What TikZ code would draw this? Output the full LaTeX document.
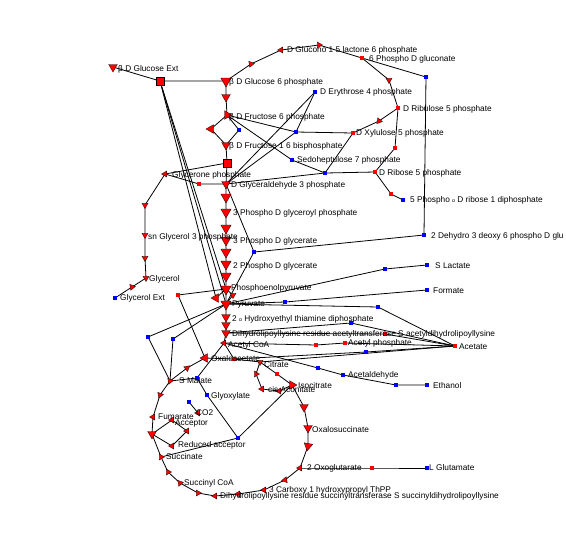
\documentclass[tikz,border=0pt]{standalone}
\usepackage{fontspec}
\setmainfont{Liberation Sans}
\usetikzlibrary{shapes.geometric,backgrounds}
\tikzset{
  tri/.style={regular polygon,regular polygon sides=3,minimum size=12pt,inner sep=0pt,fill=red,draw=black,line width=.3pt,shape border rotate=#1},
  tri/.default=180,
  mdt/.style={regular polygon,regular polygon sides=3,minimum size=10pt,inner sep=0pt,fill=red,draw=black,line width=.3pt,shape border rotate=#1},
  mdt/.default=180,
  smt/.style={regular polygon,regular polygon sides=3,minimum size=7pt,inner sep=0pt,fill=red,draw=black,line width=.3pt,shape border rotate=#1},
  smt/.default=180,
  big/.style={rectangle,minimum size=8pt,inner sep=0pt,fill=red,draw=black,line width=.3pt},
  bd/.style={rectangle,minimum size=3.6pt,inner sep=0pt,fill=blue,draw=none},
  rd/.style={rectangle,minimum size=3.6pt,inner sep=0pt,fill=red,draw=none},
  lb/.style={anchor=west,inner sep=0pt,font=\fontsize{8.3}{9}\selectfont,text=black},
  edge/.style={draw=black,line width=.8pt}
}
\begin{document}
\begin{tikzpicture}[x=1pt,y=-1pt]
\useasboundingbox (0,0) rectangle (566,542);
% reactions and metabolites
\node[mdt=60] (gext) at (113,67) {};
\node[big] (g1) at (160,81) {};
\node[tri] (g6p) at (226,81) {};
\node[mdt] (a1) at (226,97) {};
\node[mdt=30] (f6p) at (227,115) {};
\node[mdt=90] (a2) at (211,129) {};
\node[bd] (a3) at (239,130) {};
\node[mdt] (fbp) at (226,145) {};
\node[big] (a4) at (227,163) {};
\node[smt=90] (dhap) at (165,174) {};
\node[rd] (a5) at (199,184) {};
\node[mdt] (gap) at (226,184) {};
\node[tri] (m1) at (226,197) {};
\node[tri] (m2) at (226,212) {};
\node[tri] (m3) at (226,228) {};
\node[tri] (m4) at (226,240) {};
\node[tri] (m5) at (226,252) {};
\node[tri] (m6) at (226,264) {};
\node[tri] (m7) at (226,276) {};
\node[tri] (pep) at (226,289) {};
\node[tri] (pyr) at (226,304) {};
\node[mdt] (m8) at (226,317) {};
\node[mdt] (m9) at (226,325) {};
\node[mdt] (m10) at (226,333) {};
\node[smt=90] (aco) at (224,343) {};
\node[mdt=90] (b1) at (216,298) {};
\node[smt] (b2) at (233,295) {};
\node[rd] (b3) at (178,295) {};
% glycerol
\node[smt] (c1) at (145,205) {};
\node[smt] (c2) at (145,235) {};
\node[smt] (c3) at (145,258) {};
\node[smt=60] (gol) at (146,278) {};
\node[smt=40] (c4) at (132,287) {};
\node[bd] (gext2) at (115,298) {};
% pentose
\node[smt=40] (p1) at (251,64) {};
\node[smt=90] (gl) at (281,50) {};
\node[smt=30] (p2) at (319,45) {};
\node[rd] (pg) at (362,58) {};
\node[smt] (p3) at (389,80) {};
\node[rd] (rbl) at (398,108) {};
\node[smt=20] (p4) at (379,121) {};
\node[rd] (xyl) at (353,133) {};
\node[rd] (p5) at (395,148) {};
\node[rd] (rib) at (375,172) {};
\node[rd] (p6) at (391,194) {};
\node[bd] (prpp) at (403,200) {};
\node[bd] (ery) at (315,92) {};
\node[bd] (e1) at (296,132) {};
\node[bd] (sed) at (292,160) {};
\node[bd] (e2) at (325,173) {};
\node[bd] (kd1) at (426,77) {};
\node[bd] (kdpg) at (424,235) {};
\node[bd] (pgk) at (254,252) {};
% right branch
\node[bd] (lac1) at (385,269) {};
\node[bd] (lac) at (427,265) {};
\node[bd] (f1) at (285,302) {};
\node[bd] (fmt) at (427,290) {};
\node[bd] (ac1) at (378,307) {};
\node[bd] (ac2) at (351,323) {};
\node[rd] (ac3) at (385,334) {};
\node[rd] (acet) at (455,346) {};
\node[rd] (ap1) at (316,345) {};
\node[rd] (ap) at (345,343) {};
\node[bd] (ac4) at (366,352) {};
\node[bd] (ald1) at (318,368) {};
\node[bd] (ald) at (343,375) {};
\node[bd] (eth1) at (396,385) {};
\node[bd] (eth) at (427,385) {};
\node[bd] (ml1) at (148,337) {};
\node[bd] (ml2) at (173,339) {};
% cycle
\node[mdt=90] (oaa) at (205,358) {};
\node[smt=70] (t0) at (187,368) {};
\node[smt=40] (mal) at (170,381) {};
\node[smt=40] (t1) at (160,395) {};
\node[smt=90] (fum) at (153,417) {};
\node[mdt=60] (t2) at (152,434) {};
\node[smt=30] (suc) at (161,457) {};
\node[smt=30] (t3) at (168,472) {};
\node[smt=40] (sca) at (180,483) {};
\node[smt=30] (t4) at (198,493) {};
\node[smt=90] (t5) at (215,496) {};
\node[smt=90] (t6) at (238,494) {};
\node[smt=90] (t7) at (264,490) {};
\node[smt=100] (t8) at (285,480) {};
\node[smt=90] (ogl) at (300,468) {};
\node[mdt=170] (t9) at (308,446) {};
\node[mdt=180] (osu) at (308,428) {};
\node[mdt=180] (t10) at (304,407) {};
\node[mdt=150] (iso) at (292,385) {};
\node[rd] (t11) at (277,374) {};
\node[smt=90] (t12) at (279,391) {};
\node[smt=90] (cis) at (262,389) {};
\node[smt=150] (t13) at (256,374) {};
\node[smt=180] (cit) at (260,362) {};
\node[rd] (t14) at (234,359) {};
\node[smt=90] (d1) at (172,420) {};
\node[smt=90] (d2) at (187,431) {};
\node[smt=90] (d3) at (172,446) {};
\node[bd] (co1) at (189,402) {};
\node[smt=90] (co2) at (198,413) {};
\node[bd] (gx1) at (197,378) {};
\node[bd] (gxy) at (207,395) {};
\node[bd] (icl) at (238,438) {};
\node[rd] (glu1) at (372,468) {};
\node[bd] (glu) at (427,468) {};
% connectors
\begin{scope}[on background layer,every path/.style={edge}]
\draw (gext.center)--(g1.center)--(g6p.center)--(a1.center)--(f6p.center)--(a2.center)--(fbp.center)--(a4.center)--(gap.center);
\draw (f6p.center)--(a3.center)--(fbp.center);
\draw (a4.center)--(dhap.center)--(a5.center)--(gap.center);
\draw (gap.center)--(m1.center)--(m2.center)--(m3.center)--(m4.center)--(m5.center)--(m6.center)--(m7.center)--(pep.center)--(pyr.center)--(m8.center)--(m9.center)--(m10.center)--(aco.center);
\draw (g1.center)--(pep.center);
\draw (g1.center)--(pyr.center);
\draw (g1.center)--(b1.center);
\draw (pep.center)--(b1.center);
\draw (pep.center)--(b2.center)--(pyr.center);
\draw (dhap.center)--(c1.center)--(c2.center)--(c3.center)--(gol.center)--(c4.center)--(gext2.center);
\draw (g6p.center)--(p1.center)--(gl.center)--(p2.center)--(pg.center)--(p3.center)--(rbl.center)--(p4.center)--(xyl.center);
\draw (rbl.center)--(p5.center)--(rib.center)--(p6.center)--(prpp.center);
\draw (pg.center)--(kd1.center)--(kdpg.center)--(pgk.center)--(gap.center);
\draw (pgk.center)--(pyr.center);
\draw (ery.center)--(gap.center);
\draw (ery.center)--(e1.center)--(gap.center);
\draw (f6p.center)--(e1.center)--(xyl.center);
\draw (f6p.center)--(sed.center)--(e2.center)--(xyl.center);
\draw (gap.center)--(e2.center)--(rib.center);
\draw (pep.center)--(b3.center)--(oaa.center);
\draw (pyr.center)--(lac1.center)--(lac.center);
\draw (pyr.center)--(f1.center)--(fmt.center);
\draw (pyr.center)--(ac1.center)--(acet.center);
\draw (m10.center)--(ac2.center)--(acet.center);
\draw (m10.center)--(ac3.center)--(acet.center);
\draw (aco.center)--(ap1.center)--(ap.center)--(acet.center);
\draw (t14.center)--(ac4.center)--(acet.center);
\draw (cit.center)--(acet.center);
\draw (aco.center)--(ald1.center)--(ald.center)--(eth1.center)--(eth.center);
\draw (pyr.center)--(ml1.center)--(mal.center);
\draw (pyr.center)--(ml2.center)--(mal.center);
\draw (oaa.center)--(t0.center)--(mal.center)--(t1.center)--(fum.center)--(t2.center)--(suc.center)--(t3.center)--(sca.center)--(t4.center)--(t5.center)--(t6.center)--(t7.center)--(t8.center)--(ogl.center)--(t9.center)--(osu.center)--(t10.center)--(iso.center)--(t11.center)--(cit.center)--(t14.center)--(oaa.center);
\draw (cit.center)--(t13.center)--(cis.center)--(t12.center)--(iso.center);
\draw (aco.center)--(t14.center);
\draw (t2.center)--(d1.center)--(d2.center)--(d3.center)--(t2.center);
\draw (co1.center)--(co2.center);
\draw (aco.center)--(gx1.center)--(gxy.center)--(icl.center)--(iso.center);
\draw (gx1.center)--(mal.center);
\draw (icl.center)--(suc.center);
\draw (ogl.center)--(glu1.center)--(glu.center);
\end{scope}
% labels
\node[lb] (l1) at (118,69) {β D Glucose Ext};
\node[lb] (l2) at (229,82) {β D Glucose 6 phosphate};
\node[lb] (l3) at (287,50) {D Glucono 1 5 lactone 6 phosphate};
\node[lb] (l4) at (369,59) {6 Phospho D gluconate};
\node[lb] (l5) at (320,92) {D Erythrose 4 phosphate};
\node[lb] (l6) at (403,109) {D Ribulose 5 phosphate};
\node[lb] (l7) at (229,117) {β D Fructose 6 phosphate};
\node[lb] (l8) at (356,133) {D Xylulose 5 phosphate};
\node[lb] (l9) at (229,146) {β D Fructose 1 6 bisphosphate};
\node[lb] (l10) at (297,160) {Sedoheptulose 7 phosphate};
\node[lb] (l11) at (172,175) {Glycerone phosphate};
\node[lb] (l12) at (379,173) {D Ribose 5 phosphate};
\node[lb] (l13) at (231,185) {D Glyceraldehyde 3 phosphate};
\node[lb] (l14) at (410,200) {5 Phospho {\fontsize{5}{5}\selectfont α} D ribose 1 diphosphate};
\node[lb] (l15) at (233,213) {3 Phospho D glyceroyl phosphate};
\node[lb] (l16) at (148,237) {sn Glycerol 3 phosphate};
\node[lb] (l17) at (233,241) {3 Phospho D glycerate};
\node[lb] (l18) at (431,236) {2 Dehydro 3 deoxy 6 phospho D glu};
\node[lb] (l19) at (233,266) {2 Phospho D glycerate};
\node[lb] (l20) at (435,266) {S Lactate};
\node[lb] (l21) at (149,279) {Glycerol};
\node[lb] (l22) at (231,288) {Phosphoenolpyruvate};
\node[lb] (l23) at (433,291) {Formate};
\node[lb] (l24) at (120,298) {Glycerol Ext};
\node[lb] (l25) at (232,304) {Pyruvate};
\node[lb] (l26) at (232,319) {2 {\fontsize{5}{5}\selectfont α} Hydroxyethyl thiamine diphosphate};
\node[lb] (l27) at (232,334) {Dihydrolipoyllysine residue acetyltransferase S acetyldihydrolipoyllysine};
\node[lb] (l28) at (228,345) {Acetyl CoA};
\node[lb] (l29) at (348,343) {Acetyl phosphate};
\node[lb] (l30) at (459,347) {Acetate};
\node[lb] (l31) at (211,359) {Oxaloacetate};
\node[lb] (l32) at (264,365) {Citrate};
\node[lb] (l33) at (179,381) {S Malate};
\node[lb] (l34) at (298,386) {Isocitrate};
\node[lb] (l35) at (268,390) {cis Aconitate};
\node[lb] (l36) at (348,375) {Acetaldehyde};
\node[lb] (l37) at (433,386) {Ethanol};
\node[lb] (l38) at (211,396) {Glyoxylate};
\node[lb] (l39) at (196,413) {CO2};
\node[lb] (l40) at (158,417) {Fumarate};
\node[lb] (l41) at (175,423) {Acceptor};
\node[lb] (l42) at (178,445) {Reduced acceptor};
\node[lb] (l43) at (166,457) {Succinate};
\node[lb] (l44) at (184,483) {Succinyl CoA};
\node[lb] (l45) at (312,430) {Oxalosuccinate};
\node[lb] (l46) at (307,468) {2 Oxoglutarate};
\node[lb] (l47) at (429,468) {L Glutamate};
\node[lb] (l48) at (269,490) {3 Carboxy 1 hydroxypropyl ThPP};
\node[lb] (l49) at (220,496) {Dihydrolipoyllysine residue succinyltransferase S succinyldihydrolipoyllysine};
\end{tikzpicture}
\end{document}
